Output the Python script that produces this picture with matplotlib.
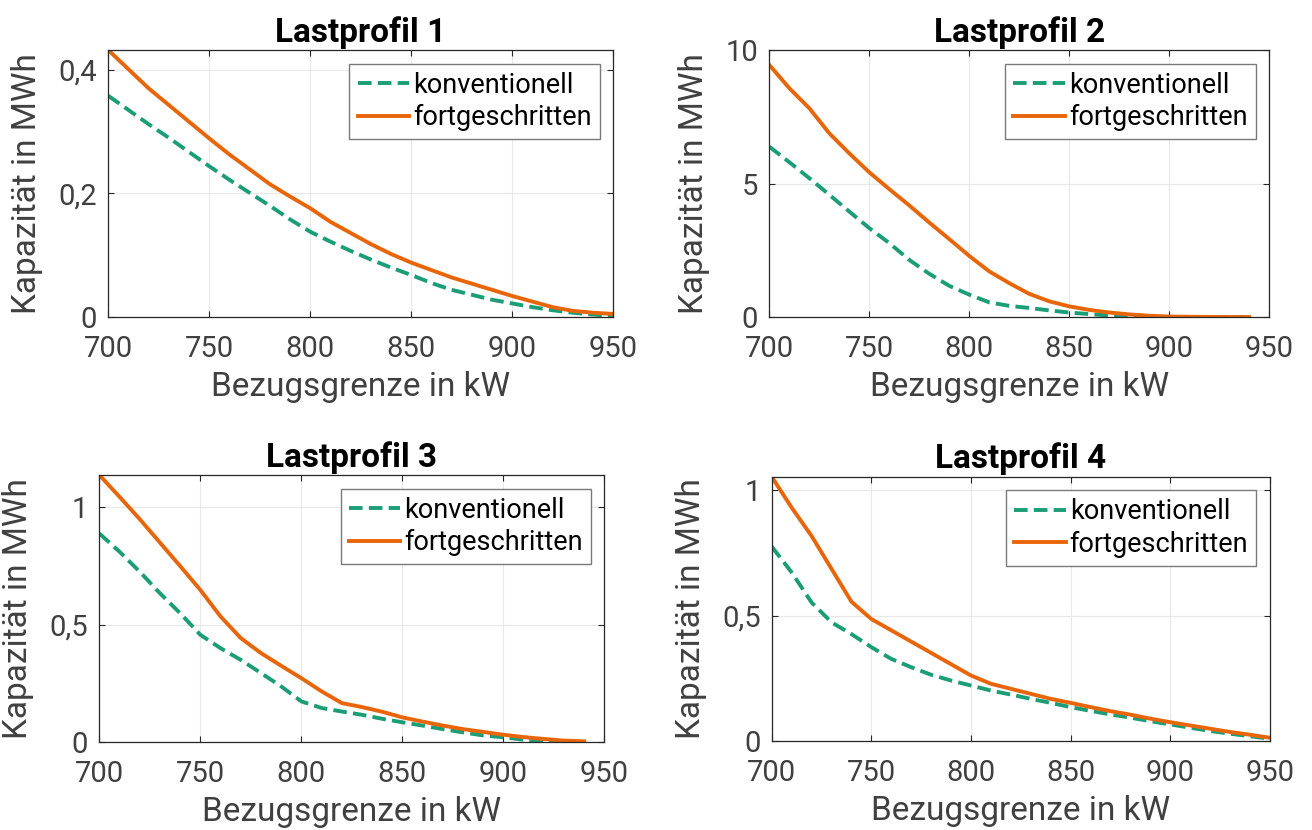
import numpy as np
import matplotlib
matplotlib.use("Agg")
import matplotlib.pyplot as plt
import matplotlib.ticker as ticker

plt.rcParams['font.family'] = ['Roboto', 'DejaVu Sans']

# Bezugsgrenze in kW
x_full = [700, 710, 720, 730, 740, 750, 760, 770, 780, 790, 800, 810, 820,
          830, 840, 850, 860, 870, 880, 890, 900, 910, 920, 930, 940, 950]
x_940 = x_full[:-1]

# Lastprofil 1 (MWh)
lp1_konv = [0.358, 0.335, 0.312, 0.290, 0.267, 0.244, 0.222, 0.201, 0.180,
            0.158, 0.138, 0.122, 0.107, 0.093, 0.080, 0.068, 0.055, 0.044,
            0.036, 0.028, 0.022, 0.016, 0.011, 0.007, 0.004, 0.002]
lp1_fort = [0.432, 0.401, 0.370, 0.343, 0.316, 0.289, 0.263, 0.239, 0.215,
            0.195, 0.176, 0.154, 0.136, 0.118, 0.102, 0.088, 0.076, 0.064,
            0.054, 0.044, 0.034, 0.025, 0.016, 0.010, 0.007, 0.005]

# Lastprofil 2 (MWh), bis 940 kW
lp2_konv = [6.38, 5.80, 5.20, 4.58, 3.95, 3.33, 2.77, 2.14, 1.62, 1.17, 0.84,
            0.55, 0.42, 0.34, 0.25, 0.17, 0.11, 0.06, 0.03, 0.01, 0.0, 0.0,
            0.0, 0.0, 0.0]
lp2_fort = [9.44, 8.57, 7.82, 6.88, 6.13, 5.42, 4.79, 4.18, 3.54, 2.92, 2.29,
            1.71, 1.27, 0.87, 0.59, 0.40, 0.27, 0.17, 0.10, 0.05, 0.02, 0.01,
            0.005, 0.002, 0.0]

# Lastprofil 3 (MWh), bis 940 kW
lp3_konv = [0.889, 0.811, 0.726, 0.634, 0.549, 0.457, 0.400, 0.350, 0.294,
            0.237, 0.173, 0.145, 0.130, 0.116, 0.099, 0.084, 0.070, 0.055,
            0.041, 0.028, 0.020, 0.010, 0.004, 0.001, 0.0]
lp3_fort = [1.138, 1.045, 0.950, 0.850, 0.750, 0.648, 0.535, 0.443, 0.379,
            0.325, 0.272, 0.216, 0.166, 0.149, 0.129, 0.105, 0.087, 0.070,
            0.055, 0.043, 0.031, 0.021, 0.013, 0.006, 0.003]

# Lastprofil 4 (MWh)
lp4_konv = [0.775, 0.672, 0.552, 0.473, 0.426, 0.374, 0.327, 0.294, 0.264,
            0.241, 0.221, 0.201, 0.185, 0.168, 0.152, 0.135, 0.120, 0.106,
            0.093, 0.079, 0.066, 0.053, 0.040, 0.029, 0.019, 0.009]
lp4_fort = [1.053, 0.930, 0.817, 0.686, 0.555, 0.486, 0.441, 0.396, 0.351,
            0.306, 0.261, 0.228, 0.208, 0.188, 0.168, 0.152, 0.135, 0.119,
            0.105, 0.089, 0.075, 0.062, 0.049, 0.036, 0.025, 0.013]

titles = ["Lastprofil 1", "Lastprofil 2", "Lastprofil 3", "Lastprofil 4"]
yticks = [[0, 0.2, 0.4], [0, 5, 10], [0, 0.5, 1], [0, 0.5, 1]]

green = '#1b9e77'
orange = '#e8650a'
tickcol = '#404040'


def komma(v, pos):
    # Dezimalkomma
    s = "{:g}".format(v)
    return s.replace(".", ",")


fig = plt.figure(figsize=(13.12, 8.30), dpi=100)
# Positionen der Achsen (links, unten, breite, hoehe)
rects = [(0.0825, 0.618, 0.385, 0.3217),
         (0.5864, 0.618, 0.3809, 0.3217),
         (0.0757, 0.106, 0.385, 0.3217),
         (0.5882, 0.1072, 0.3798, 0.3184)]
data = [(x_full, lp1_konv, lp1_fort), (x_940, lp2_konv, lp2_fort),
        (x_940, lp3_konv, lp3_fort), (x_full, lp4_konv, lp4_fort)]
ylims = [max(lp1_fort), 10, max(lp3_fort), max(lp4_fort)]

for i in range(4):
    ax = fig.add_axes(rects[i])
    xs, konv, fort = data[i]
    ax.plot(xs, konv, '--', color=green, lw=2.8, dashes=(3.5, 1.6),
            label='konventionell')
    ax.plot(xs, fort, '-', color=orange, lw=2.8, label='fortgeschritten')
    ax.set_xlim(700, 950)
    ax.set_ylim(0, ylims[i])
    ax.set_xticks([700, 750, 800, 850, 900, 950])
    ax.set_yticks(yticks[i])
    ax.yaxis.set_major_formatter(ticker.FuncFormatter(komma))
    ax.grid(True, color='#e8e8e8', lw=0.8)
    ax.set_axisbelow(True)
    ax.tick_params(direction='in', top=True, right=True, length=4.5,
                   width=0.8, color='#262626', labelsize=21,
                   labelcolor=tickcol)
    ax.tick_params(axis='x', pad=13)
    ax.tick_params(axis='y', pad=8)
    for sp in ax.spines.values():
        sp.set_color('#262626')
        sp.set_linewidth(0.9)
    ax.set_title(titles[i], fontsize=24, fontweight='bold', pad=6)
    ax.set_xlabel("Bezugsgrenze in kW", fontsize=24, color=tickcol,
                  labelpad=6)
    ax.set_ylabel("Kapazität in MWh", fontsize=24, color=tickcol,
                  labelpad=11)
    leg = ax.legend(loc='upper right', fontsize=19.5, fancybox=False,
                    framealpha=1, edgecolor='#7a7a7a', handlelength=1.9,
                    handletextpad=0.15, borderpad=0.3, labelspacing=0.2,
                    borderaxespad=0.5)
    leg.get_frame().set_linewidth(1.0)

plt.savefig("out.png", dpi=100)
plt.close()
